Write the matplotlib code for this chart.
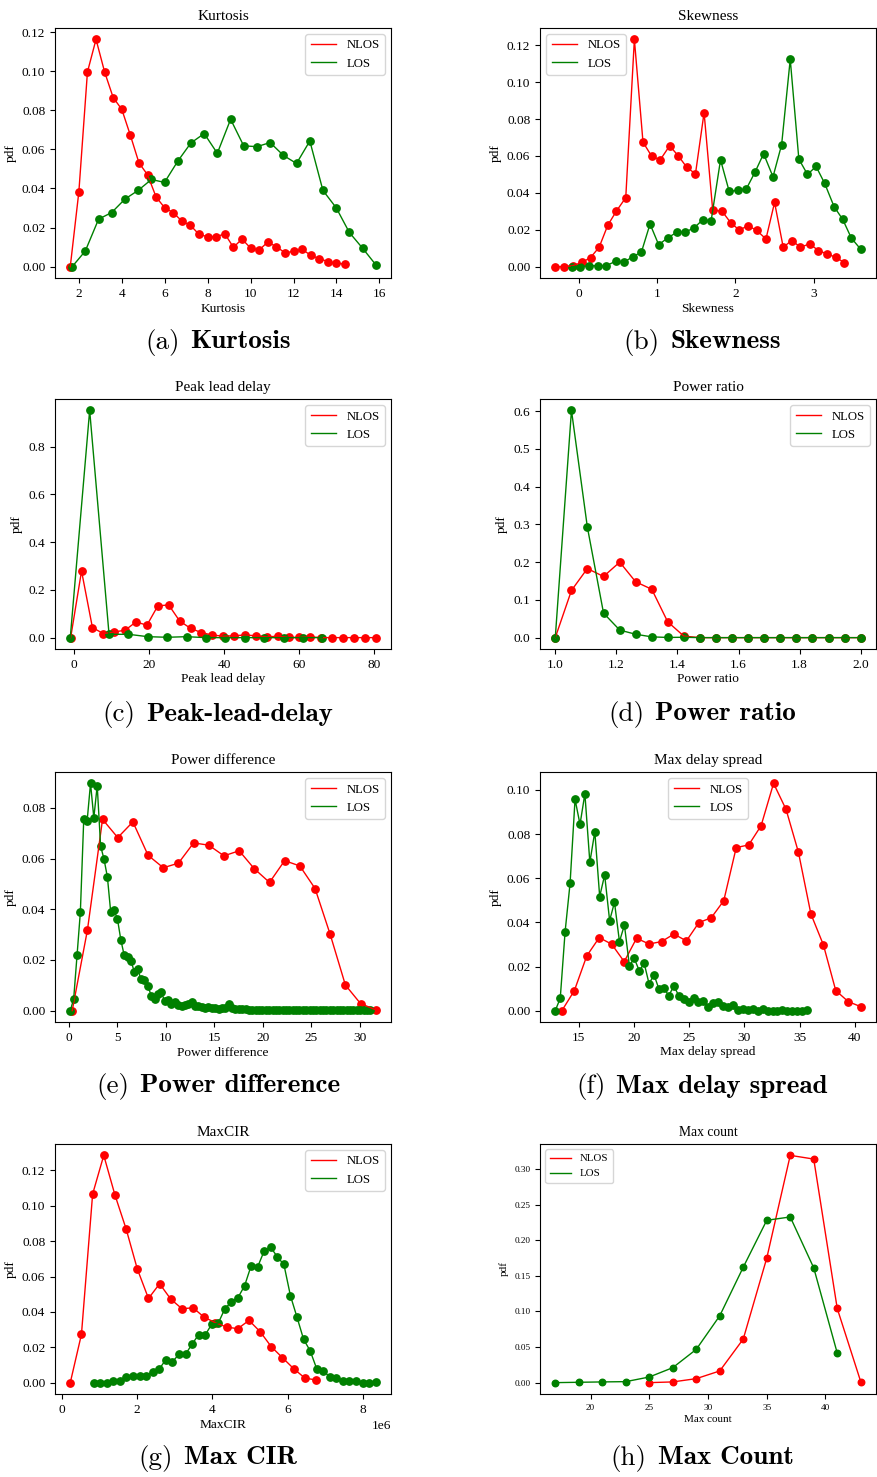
import matplotlib
matplotlib.use('Agg')
import matplotlib.pyplot as plt
from matplotlib.ticker import MultipleLocator
from matplotlib.offsetbox import TextArea, HPacker, AnchoredOffsetbox

# (a) Kurtosis
kurt_nlos_x = [1.60, 2.00, 2.40, 2.80, 3.20, 3.60, 4.00, 4.40, 4.80, 5.20, 5.60, 6.00, 6.40, 6.80, 7.20, 7.60, 8.00,
               8.40, 8.80, 9.20, 9.60, 10.00, 10.40, 10.80, 11.20, 11.60, 12.00, 12.40, 12.80, 13.20, 13.60, 14.00, 14.40]
kurt_nlos_y = [0.0, 0.0383, 0.0996, 0.1163, 0.0996, 0.0865, 0.0805, 0.0672, 0.0531, 0.0470, 0.0356, 0.0301, 0.0276,
               0.0233, 0.0211, 0.0165, 0.0153, 0.0153, 0.0168, 0.0099, 0.0141, 0.0095, 0.0085, 0.0126, 0.0102, 0.0071,
               0.0078, 0.0089, 0.0058, 0.0041, 0.0026, 0.0017, 0.0014]
kurt_los_x = [1.69, 2.30, 2.92, 3.53, 4.15, 4.76, 5.38, 5.99, 6.61, 7.22, 7.84, 8.45, 9.07, 9.68, 10.30, 10.91, 11.53,
              12.14, 12.76, 13.37, 13.99, 14.60, 15.22, 15.83]
kurt_los_y = [0.0, 0.0080, 0.0243, 0.0277, 0.0346, 0.0390, 0.0446, 0.0431, 0.0540, 0.0633, 0.0681, 0.0580, 0.0754,
              0.0618, 0.0614, 0.0635, 0.0569, 0.0528, 0.0643, 0.0390, 0.0301, 0.0175, 0.0094, 0.0010]

# (b) Skewness
skew_nlos_x = [-0.30, -0.19, -0.08, 0.04, 0.15, 0.26, 0.37, 0.48, 0.60, 0.71, 0.82, 0.93, 1.04, 1.16, 1.27, 1.38, 1.49,
               1.60, 1.71, 1.83, 1.94, 2.05, 2.16, 2.27, 2.39, 2.50, 2.61, 2.72, 2.83, 2.95, 3.06, 3.17, 3.28, 3.39]
skew_nlos_y = [0.0, 0.0, 0.0005, 0.0023, 0.0049, 0.0105, 0.0224, 0.0301, 0.0374, 0.1232, 0.0675, 0.0599, 0.0579,
               0.0655, 0.0601, 0.0538, 0.0503, 0.0835, 0.0307, 0.0300, 0.0238, 0.0198, 0.0222, 0.0197, 0.0150, 0.0348,
               0.0106, 0.0141, 0.0106, 0.0123, 0.0087, 0.0069, 0.0051, 0.0022]
skew_los_x = [-0.09, 0.02, 0.13, 0.24, 0.35, 0.47, 0.58, 0.69, 0.80, 0.91, 1.02, 1.14, 1.25, 1.36, 1.47, 1.58, 1.69,
              1.81, 1.92, 2.03, 2.14, 2.25, 2.36, 2.48, 2.59, 2.70, 2.81, 2.92, 3.03, 3.14, 3.26, 3.37, 3.48, 3.60]
skew_los_y = [0.0, 0.0, 0.0005, 0.0005, 0.0005, 0.0029, 0.0025, 0.0054, 0.0079, 0.0231, 0.0119, 0.0157, 0.0186,
              0.0188, 0.0209, 0.0253, 0.0249, 0.0579, 0.0409, 0.0413, 0.0422, 0.0512, 0.0612, 0.0487, 0.0661, 0.1124,
              0.0583, 0.0500, 0.0543, 0.0451, 0.0325, 0.0256, 0.0155, 0.0094]

# (c) Peak lead delay
pld_nlos_x = [-0.8, 2.1, 5.0, 7.9, 10.8, 13.7, 16.6, 19.5, 22.4, 25.3, 28.2, 31.1, 34.0, 36.9, 39.8, 42.7, 45.6,
              48.5, 51.4, 54.3, 57.2, 60.1, 63.0, 65.9, 68.8, 71.7, 74.6, 77.5, 80.4]
pld_nlos_y = [0.0, 0.279, 0.042, 0.017, 0.024, 0.031, 0.066, 0.052, 0.133, 0.137, 0.070, 0.039, 0.021, 0.011, 0.006,
              0.008, 0.011, 0.008, 0.003, 0.006, 0.001, 0.001, 0.003, 0.0, 0.0, 0.0, 0.0, 0.0, 0.0]
pld_los_x = [-0.9, 4.26, 9.42, 14.58, 19.74, 24.9, 30.06, 35.22, 40.38, 45.54, 50.7, 55.86, 61.02, 66.18]
pld_los_y = [0.0, 0.952, 0.014, 0.014, 0.004, 0.0015, 0.004, 0.0, 0.0, 0.0, 0.0, 0.0, 0.0, 0.0]

# (d) Power ratio
pr_x = [1.000, 1.053, 1.105, 1.158, 1.211, 1.263, 1.316, 1.368, 1.421, 1.474, 1.526, 1.579, 1.632, 1.684, 1.737,
        1.789, 1.842, 1.895, 1.947, 2.000]
pr_nlos_y = [0.0, 0.125, 0.183, 0.162, 0.200, 0.148, 0.128, 0.042, 0.004, 0.0, 0.0, 0.0, 0.0, 0.0, 0.0, 0.0, 0.0,
             0.0, 0.0, 0.0]
pr_los_y = [0.0, 0.602, 0.293, 0.065, 0.020, 0.009, 0.002, 0.0005, 0.001, 0.0, 0.0, 0.0, 0.0, 0.0, 0.0, 0.0, 0.0,
            0.0, 0.0, 0.0]

# (e) Power difference
pd_nlos_x = [0.34, 1.91, 3.47, 5.04, 6.60, 8.17, 9.74, 11.30, 12.87, 14.43, 16.00, 17.57, 19.13, 20.70, 22.26, 23.83,
             25.40, 26.96, 28.53, 30.09, 31.66]
pd_nlos_y = [0.0, 0.0318, 0.0755, 0.0683, 0.0745, 0.0613, 0.0564, 0.0582, 0.0662, 0.0653, 0.0611, 0.0631, 0.0560,
             0.0506, 0.0592, 0.0571, 0.0482, 0.0301, 0.0101, 0.0028, 0.0003]
pd_los_x = [0.14, 0.49, 0.84, 1.18, 1.53, 1.88, 2.23, 2.57, 2.92, 3.27, 3.62, 3.97, 4.31, 4.66, 5.01, 5.36, 5.70,
            6.05, 6.40, 6.75, 7.10, 7.44, 7.79, 8.14, 8.49, 8.84, 9.18, 9.53, 9.88, 10.23, 10.57, 10.92, 11.27, 11.62,
            11.97, 12.31, 12.66, 13.01, 13.36, 13.70, 14.05, 14.40, 14.75, 15.10, 15.44, 15.79, 16.14, 16.49, 16.83,
            17.18, 17.53, 17.88, 18.23, 18.57, 18.92, 19.27, 19.62, 19.96, 20.31, 20.66, 21.01, 21.36, 21.70, 22.05,
            22.40, 22.75, 23.09, 23.44, 23.79, 24.14, 24.49, 24.83, 25.18, 25.53, 25.88, 26.22, 26.57, 26.92, 27.27,
            27.62, 27.96, 28.31, 28.66, 29.01, 29.35, 29.70, 30.05, 30.40, 30.75, 31.09]
pd_los_y = [0.0, 0.0046, 0.0219, 0.0388, 0.0755, 0.0749, 0.0897, 0.0761, 0.0888, 0.0650, 0.0598, 0.0528, 0.0390,
            0.0397, 0.0361, 0.0279, 0.0219, 0.0213, 0.0196, 0.0154, 0.0164, 0.0123, 0.0121, 0.0099, 0.0059, 0.0046,
            0.0066, 0.0072, 0.0038, 0.0042, 0.0026, 0.0035, 0.0022, 0.0018, 0.0022, 0.0025, 0.0035, 0.0018, 0.0020,
            0.0014, 0.0012, 0.0014, 0.0010, 0.0012, 0.0006, 0.0010, 0.0012, 0.0026, 0.0012, 0.0008, 0.0006, 0.0005,
            0.0005, 0.0003, 0.0004, 0.0003, 0.0002, 0.0004, 0.0003, 0.0002, 0.0003, 0.0002, 0.0003, 0.0002, 0.0003,
            0.0002, 0.0001, 0.0003, 0.0002, 0.0002, 0.0001, 0.0003, 0.0002, 0.0001, 0.0002, 0.0002, 0.0001, 0.0002,
            0.0003, 0.0001, 0.0002, 0.0001, 0.0001, 0.0002, 0.0001, 0.0001, 0.0002, 0.0001, 0.0001, 0.0002]

# (f) Max delay spread
mds_nlos_x = [13.49, 14.62, 15.74, 16.87, 18.00, 19.13, 20.25, 21.38, 22.51, 23.63, 24.76, 25.89, 27.01, 28.14,
              29.27, 30.40, 31.52, 32.65, 33.78, 34.90, 36.03, 37.16, 38.28, 39.41, 40.54]
mds_nlos_y = [0.0, 0.0091, 0.0248, 0.0331, 0.0301, 0.0222, 0.0328, 0.0302, 0.0313, 0.0347, 0.0316, 0.0399, 0.0421,
              0.0498, 0.0739, 0.0751, 0.0838, 0.1030, 0.0912, 0.0718, 0.0438, 0.0298, 0.0091, 0.0041, 0.0018]
mds_los_x = [12.89, 13.34, 13.78, 14.23, 14.68, 15.13, 15.57, 16.02, 16.47, 16.91, 17.36, 17.81, 18.25, 18.70,
             19.15, 19.60, 20.04, 20.49, 20.94, 21.38, 21.83, 22.28, 22.72, 23.17, 23.62, 24.07, 24.51, 24.96,
             25.41, 25.85, 26.30, 26.75, 27.19, 27.64, 28.09, 28.53, 28.98, 29.43, 29.88, 30.32, 30.77, 31.22,
             31.66, 32.11, 32.56, 33.00, 33.45, 33.90, 34.34, 34.79, 35.24, 35.69]
mds_los_y = [0.0, 0.0056, 0.0358, 0.0577, 0.0958, 0.0844, 0.0983, 0.0672, 0.0811, 0.0517, 0.0615, 0.0408, 0.0491,
             0.0313, 0.0388, 0.0204, 0.0237, 0.0181, 0.0214, 0.0122, 0.0162, 0.0097, 0.0101, 0.0068, 0.0112, 0.0068,
             0.0053, 0.0041, 0.0056, 0.0038, 0.0045, 0.0018, 0.0033, 0.0041, 0.0021, 0.0015, 0.0026, 0.0003, 0.0009,
             0.0003, 0.0006, 0.0, 0.0008, 0.0, 0.0, 0.0, 0.0005, 0.0, 0.0, 0.0, 0.0, 0.0003]

# (g) MaxCIR
cir_nlos_x = [0.222e6, 0.519e6, 0.816e6, 1.112e6, 1.409e6, 1.706e6, 2.003e6, 2.300e6, 2.596e6, 2.893e6, 3.190e6,
              3.487e6, 3.784e6, 4.080e6, 4.377e6, 4.674e6, 4.971e6, 5.268e6, 5.564e6, 5.861e6, 6.158e6, 6.455e6,
              6.752e6]
cir_nlos_y = [0.0, 0.0273, 0.1066, 0.1285, 0.1061, 0.0869, 0.0643, 0.0476, 0.0559, 0.0472, 0.0418, 0.0423, 0.0369,
              0.0339, 0.0314, 0.0305, 0.0352, 0.0288, 0.0203, 0.0141, 0.0079, 0.0026, 0.0015]
cir_los_x = [0.844e6, 1.018e6, 1.193e6, 1.367e6, 1.541e6, 1.716e6, 1.890e6, 2.064e6, 2.238e6, 2.413e6, 2.587e6,
             2.761e6, 2.936e6, 3.110e6, 3.284e6, 3.459e6, 3.633e6, 3.807e6, 3.981e6, 4.156e6, 4.330e6, 4.504e6,
             4.679e6, 4.853e6, 5.027e6, 5.202e6, 5.376e6, 5.550e6, 5.724e6, 5.899e6, 6.073e6, 6.247e6, 6.422e6,
             6.596e6, 6.770e6, 6.945e6, 7.119e6, 7.293e6, 7.467e6, 7.642e6, 7.816e6, 7.990e6, 8.165e6, 8.339e6]
cir_los_y = [0.0, 0.0, 0.0, 0.0008, 0.0008, 0.0030, 0.0038, 0.0038, 0.0038, 0.0062, 0.0077, 0.0130, 0.0118, 0.0160,
             0.0160, 0.0218, 0.0271, 0.0269, 0.0331, 0.0337, 0.0418, 0.0457, 0.0481, 0.0547, 0.0660, 0.0655, 0.0745,
             0.0765, 0.0711, 0.0668, 0.0491, 0.0370, 0.0245, 0.0180, 0.0079, 0.0064, 0.0034, 0.0026, 0.0008, 0.0008,
             0.0008, 0.0, 0.0, 0.0004]

# (h) Max count
mc_nlos_x = [25, 27, 29, 31, 33, 35, 37, 39, 41, 43]
mc_nlos_y = [0.0, 0.0010, 0.0056, 0.0164, 0.0612, 0.1748, 0.3192, 0.3140, 0.1042, 0.0014]
mc_los_x = [17, 19, 21, 23, 25, 27, 29, 31, 33, 35, 37, 39, 41]
mc_los_y = [0.0, 0.0005, 0.0010, 0.0014, 0.0079, 0.0210, 0.0467, 0.0939, 0.1621, 0.2280, 0.2327, 0.1612, 0.0416]

titles = ['Kurtosis', 'Skewness', 'Peak lead delay', 'Power ratio', 'Power difference', 'Max delay spread',
          'MaxCIR', 'Max count']
tags = ['(a)', '(b)', '(c)', '(d)', '(e)', '(f)', '(g)', '(h)']
captions = ['Kurtosis', 'Skewness', 'Peak-lead-delay', 'Power ratio', 'Power difference', 'Max delay spread',
            'Max CIR', 'Max Count']
legend_locs = ['upper right', 'upper left', 'upper right', 'upper right', 'upper right', 'upper center',
               'upper right', 'upper left']
x_steps = [2, 1, 20, 0.2, 5, 5, 2e6, 5]
series = [
    (kurt_nlos_x, kurt_nlos_y, kurt_los_x, kurt_los_y),
    (skew_nlos_x, skew_nlos_y, skew_los_x, skew_los_y),
    (pld_nlos_x, pld_nlos_y, pld_los_x, pld_los_y),
    (pr_x, pr_nlos_y, pr_x, pr_los_y),
    (pd_nlos_x, pd_nlos_y, pd_los_x, pd_los_y),
    (mds_nlos_x, mds_nlos_y, mds_los_x, mds_los_y),
    (cir_nlos_x, cir_nlos_y, cir_los_x, cir_los_y),
    (mc_nlos_x, mc_nlos_y, mc_los_x, mc_los_y),
]

plt.rcParams['font.family'] = 'Liberation Serif'

W, H = 877, 1477
fig = plt.figure(figsize=(W / 100, H / 100), dpi=100)

col_left = [55, 540]
row_top = [28, 399, 772, 1144]
cap_y = [342, 714, 1086, 1458]
cap_x = [218, 702]

for i in range(8):
    r, c = i // 2, i % 2
    ax = fig.add_axes([col_left[c] / W, 1 - (row_top[r] + 250) / H, 336 / W, 250 / H])
    small = (i == 7)
    fs_tick = 6.6 if small else 9.6
    fs_lab = 8 if small else 9.6
    fs_title = 9.8 if small else 11
    fs_leg = 7.8 if small else 9.2
    ms = 22 if small else 28

    nx, ny, lx, ly = series[i]
    ax.plot(nx, ny, color='red', lw=1.0, label='NLOS')
    ax.scatter(nx, ny, color='red', s=ms)
    ax.plot(lx, ly, color='green', lw=1.0, label='LOS')
    ax.scatter(lx, ly, color='green', s=ms)

    ax.xaxis.set_major_locator(MultipleLocator(x_steps[i]))
    ax.set_title(titles[i], fontsize=fs_title)
    ax.set_xlabel(titles[i], fontsize=fs_lab, labelpad=2)
    ax.set_ylabel('pdf', fontsize=fs_lab)
    ax.tick_params(labelsize=fs_tick)
    ax.xaxis.get_offset_text().set_fontsize(fs_tick)
    ax.legend(loc=legend_locs[i], fontsize=fs_leg)

    # subfigure caption
    box = HPacker(children=[TextArea(tags[i], textprops=dict(family='cmr10', size=19.5)),
                            TextArea(captions[i], textprops=dict(family=['cmb10', 'DejaVu Serif'], size=19.5))],
                  sep=8, align='baseline', pad=0)
    anc = AnchoredOffsetbox(loc='center', child=box, pad=0, borderpad=0, frameon=False,
                            bbox_to_anchor=(cap_x[c] / W, 1 - cap_y[r] / H), bbox_transform=fig.transFigure)
    fig.add_artist(anc)

fig.savefig('out.png', dpi=100)
